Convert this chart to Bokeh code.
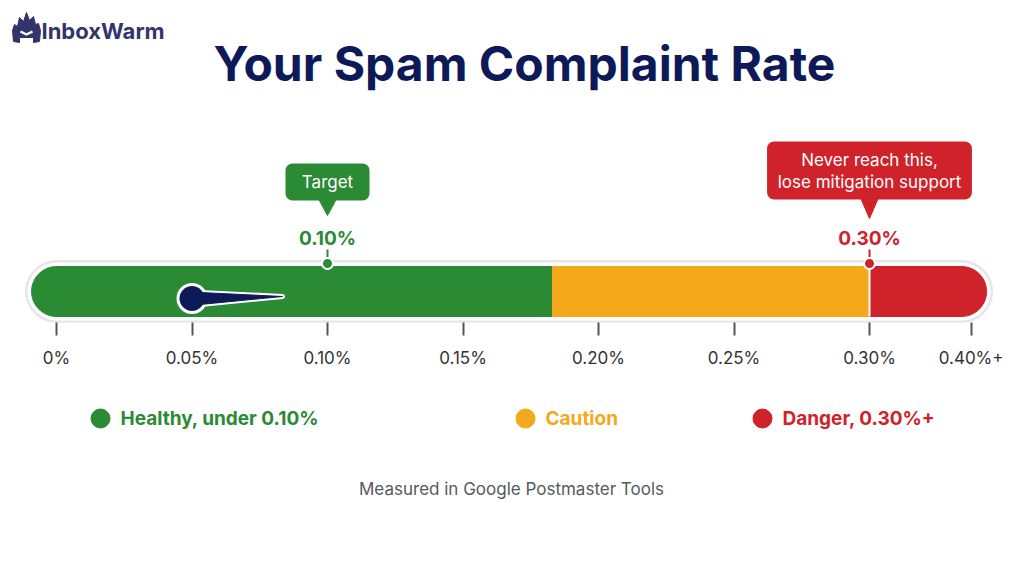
from bokeh.plotting import figure
from bokeh.layouts import column
from bokeh.models import Range1d, FixedTicker, CustomJSTickFormatter, BoxAnnotation
from bokeh.core.properties import value
from bokeh.embed import file_html
from bokeh.resources import INLINE

# ---------------- data ----------------
tick_values = [0.0, 0.05, 0.10, 0.15, 0.20, 0.25, 0.30, 0.3375]
tick_labels = ["0%", "0.05%", "0.10%", "0.15%", "0.20%", "0.25%", "0.30%", "0.40%+"]

zone_names = ["Healthy", "Caution", "Danger"]
zone_start = [0.0, 0.183, 0.30]
zone_end = [0.183, 0.30, 0.334]
zone_colors = ["#2b8a34", "#f4a91d", "#d0222a"]

marker_values = [0.10, 0.30]
marker_colors = ["#2b8a34", "#d0222a"]
marker_notes = [["Target"], ["Never reach this,", "lose mitigation support"]]

current_rate = 0.05

legend_labels = ["Healthy, under 0.10%", "Caution", "Danger, 0.30%+"]
legend_colors = ["#2b8a34", "#f4a91d", "#d0222a"]

title_text = "Your Spam Complaint Rate"
brand_text = "InboxWarm"
footer_text = "Measured in Google Postmaster Tools"

FONT = value("Inter")
NAVY = "#0d1a57"

# ---------------- top figure ----------------
p = figure(width=1024, height=380, output_backend="svg", toolbar_location=None,
           x_range=Range1d(-56 / 2710, (1024 - 56) / 2710), y_range=Range1d(322, 0),
           y_axis_location=None, min_border_left=0, min_border_right=0,
           min_border_top=0, min_border_bottom=58)
p.extra_x_ranges = {"px": Range1d(0, 1024)}
p.outline_line_color = None
p.grid.visible = False
p.background_fill_color = "white"
p.border_fill_color = "white"

ax = p.xaxis[0]
ax.ticker = FixedTicker(ticks=tick_values, minor_ticks=[])
ax.formatter = CustomJSTickFormatter(args=dict(vals=tick_values, labs=tick_labels), code="""
let i = 0, b = 1e9;
for (let j = 0; j < vals.length; j++) { const d = Math.abs(vals[j] - tick); if (d < b) { b = d; i = j; } }
return labs[i];
""")
ax.axis_line_color = None
ax.major_tick_line_color = "#555555"
ax.major_tick_line_width = 2
ax.major_tick_in = 0
ax.major_tick_out = 13
ax.minor_tick_line_color = None
ax.major_label_standoff = 12
ax.major_label_text_font = "Inter"
ax.major_label_text_font_size = "17px"
ax.major_label_text_color = "#333333"

BAR_Y = 291
bar_lo, bar_hi = zone_start[0], zone_end[-1]

# outline ring
for h, c in [(62, "#e6e6e6"), (57, "white")]:
    p.hbar(y=BAR_Y, left=bar_lo, right=bar_hi, height=h, color=c)
    p.scatter(x=[bar_lo, bar_hi], y=[BAR_Y, BAR_Y], size=h, color=c)

# zones
p.hbar(y=BAR_Y, left=zone_start, right=zone_end, height=50, color=zone_colors)
p.scatter(x=[bar_lo], y=[BAR_Y], size=50, color=zone_colors[0])
p.scatter(x=[bar_hi], y=[BAR_Y], size=50, color=zone_colors[-1])
p.segment(x0=[zone_start[2]], y0=[BAR_Y - 25], x1=[zone_start[2]], y1=[BAR_Y + 25],
          line_color="white", line_width=2)

# needle
tip = current_rate + 0.0334
nx = [current_rate + 0.003, tip, current_rate + 0.003]
ny = [BAR_Y + 1, BAR_Y + 5, BAR_Y + 13]
p.patch(nx, ny, fill_color="white", line_color="white", line_width=5, line_join="round")
p.scatter(x=[current_rate], y=[BAR_Y + 7], size=28, fill_color=NAVY, line_color="white", line_width=3)
p.patch(nx, ny, fill_color=NAVY, line_color=NAVY, line_width=1, line_join="round")

# markers (pins, values, callouts)
for v, c, note in zip(marker_values, marker_colors, marker_notes):
    p.segment(x0=[v], y0=[249], x1=[v], y1=[262], line_color=c, line_width=2)
    p.scatter(x=[v], y=[263], size=11, fill_color=c, line_color="white", line_width=2)
    p.text(x=[v], y=[238], text=[f"{v:.2f}%"], text_color=c, text_font=FONT,
           text_font_style="bold", text_font_size="19px", text_align="center",
           text_baseline="middle")
    if len(note) == 1:
        half, top, bot, ptip = 0.0155, 163, 200, 215
    else:
        half, top, bot, ptip = 0.0378, 141, 199, 218
    p.add_layout(BoxAnnotation(left=v - half, right=v + half, top=top, bottom=bot,
                               fill_color=c, fill_alpha=1, line_color=None,
                               border_radius=7, level="underlay"))
    p.patch([v - 0.0032, v + 0.0032, v], [bot - 1, bot - 1, ptip], color=c)
    n = len(note)
    for k, line in enumerate(note):
        yy = (top + bot) / 2 + (k - (n - 1) / 2) * 22
        p.text(x=[v], y=[yy], text=[line], text_color="white", text_font=FONT,
               text_font_size="17px", text_align="center", text_baseline="middle")

# title
p.text(x=[524], y=[63], text=[title_text], x_range_name="px", text_color=NAVY,
       text_font=FONT, text_font_style="bold", text_font_size="48px",
       text_align="center", text_baseline="middle")

# brand logo
LOGO = "#34346c"
icon_x = [13, 12, 14, 17, 19, 23, 26, 29, 33, 35, 38, 40, 39, 33, 33, 19, 19]
icon_y = [41, 30, 24, 26, 17, 21, 12, 20, 16, 24, 23, 30, 41, 42, 37, 37, 42]
p.patch(icon_x, icon_y, x_range_name="px", color=LOGO)
p.line([20, 26, 32], [31, 34, 31], x_range_name="px", line_color="white", line_width=2.5)
p.text(x=[41], y=[30], text=[brand_text], x_range_name="px", text_color=LOGO,
       text_font=FONT, text_font_style="bold", text_font_size="22px",
       text_align="left", text_baseline="middle")

# ---------------- bottom figure (legend, footer) ----------------
q = figure(width=1024, height=196, output_backend="svg", toolbar_location=None,
           x_range=Range1d(0, 1024), y_range=Range1d(196, 0),
           x_axis_location=None, y_axis_location=None, min_border=0)
q.outline_line_color = None
q.grid.visible = False
q.background_fill_color = "white"
q.border_fill_color = "white"

leg_x = [100, 525, 762]
q.scatter(x=leg_x, y=[38] * 3, size=19, color=legend_colors)
q.text(x=[x + 20 for x in leg_x], y=[38] * 3, text=legend_labels, text_color=legend_colors,
       text_font=FONT, text_font_style="bold", text_font_size="19px",
       text_align="left", text_baseline="middle")
q.text(x=[511], y=[108], text=[footer_text], text_color="#555a60", text_font=FONT,
       text_font_size="17px", text_align="center", text_baseline="middle")

layout = column(p, q, spacing=0)
open("out.html", "w").write(file_html(layout, INLINE))
